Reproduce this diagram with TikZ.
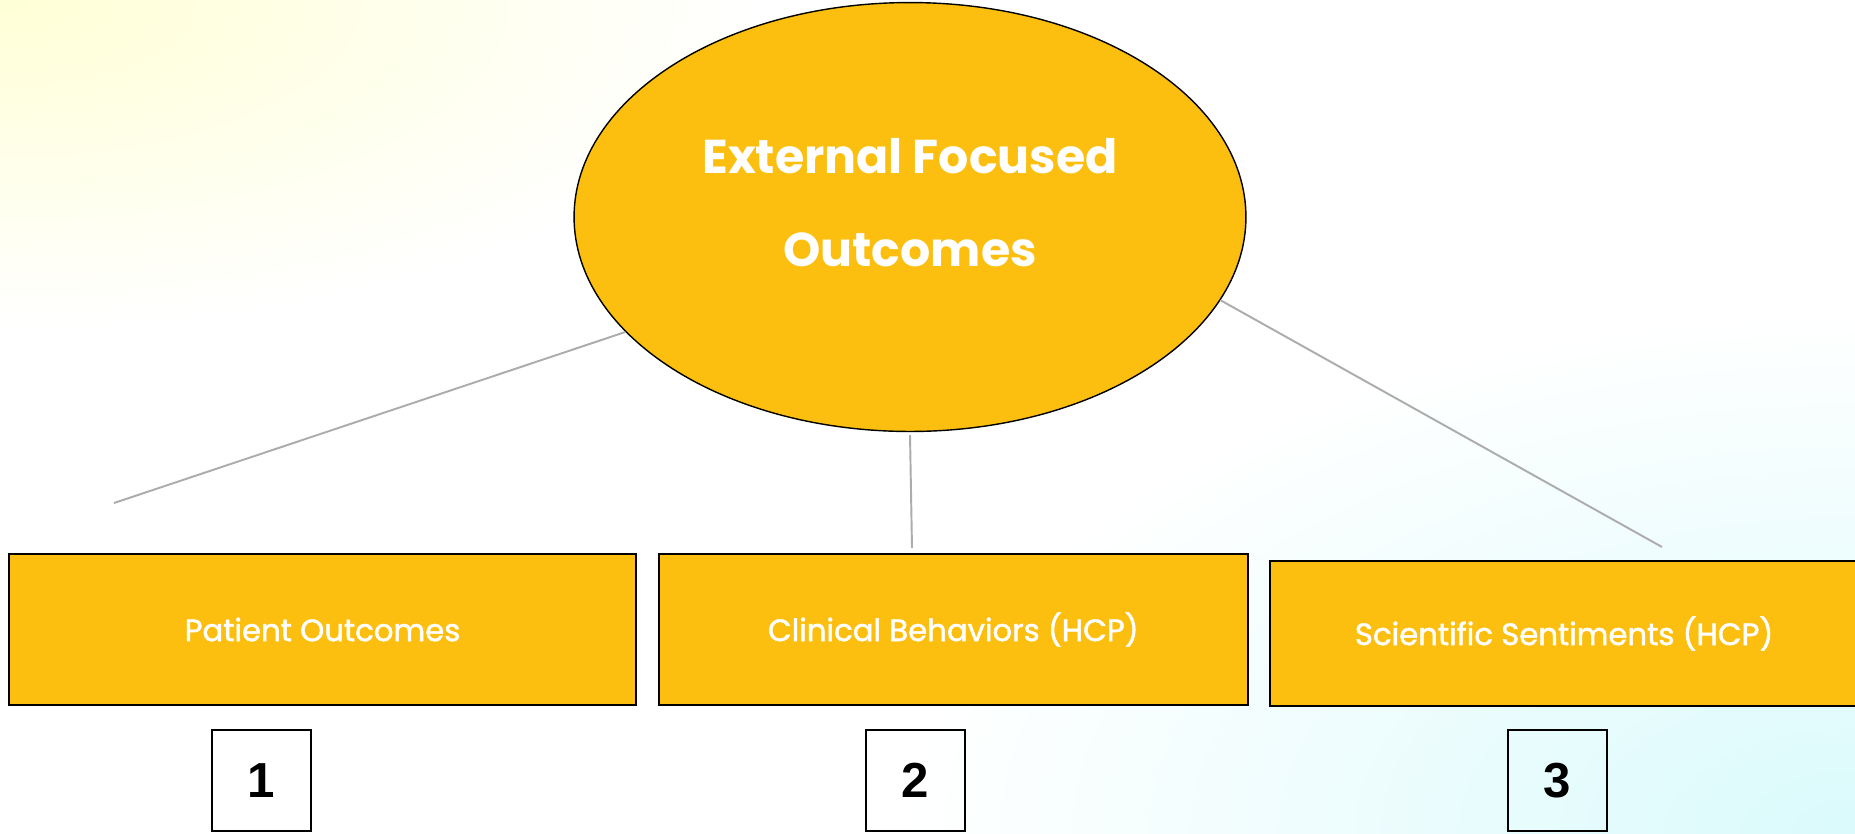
\documentclass[tikz,border=0pt]{standalone}
\usepackage{fontspec}
\usepackage{xcolor}
\usepackage{tikz}
\usetikzlibrary{shapes.geometric,positioning}

\newfontfamily\gothic{Poppins}
\newfontfamily\gothicsemi[FakeBold=1.6]{Poppins}
\newfontfamily\arialbold{Liberation Sans}

\definecolor{gold}{RGB}{252,191,16}
\definecolor{linkgrey}{RGB}{172,172,172}
\definecolor{paleyellow}{RGB}{255,255,214}
\definecolor{palecyan}{RGB}{218,250,252}

\begin{document}
\begin{tikzpicture}[
    x=0.02cm, y=-0.02cm,
    node distance=0.42cm,
    hub/.style={ellipse, draw, line width=0.8pt, fill=gold, minimum width=13.44cm, minimum height=8.58cm, inner sep=0pt, align=center, text=white, font=\gothic\bfseries\fontsize{27}{53}\selectfont, text depth=0.6cm},
    branch/.style={rectangle, draw, line width=1.1pt, fill=gold, minimum height=3.02cm, inner sep=0pt, text=white, font=\gothicsemi\fontsize{17.5}{20}\selectfont},
    tag/.style={rectangle, draw, line width=1.6pt, minimum width=1.98cm, minimum height=2.02cm, inner sep=0pt, font=\arialbold\bfseries\fontsize{28}{30}\selectfont},
    link/.style={draw=linkgrey, line width=1.1pt}
]
    \useasboundingbox (0,0) rectangle (1855,833);

    % soft background
    \fill[white] (0,0) rectangle (1855,833);
    \begin{scope}
        \clip (0,0) rectangle (1855,833);
        \shade[inner color=paleyellow, outer color=white] (0,0) ellipse [x radius=760, y radius=330];
        \shade[inner color=palecyan, outer color=white] (1855,833) ellipse [x radius=950, y radius=520];
    \end{scope}

    % hub
    \node[hub] (outcomes) at (910,217) {External Focused\\Outcomes};

    % branches
    \node[branch, minimum width=12.54cm] (patient) at (322.5,629.5) {Patient Outcomes};
    \node[branch, minimum width=11.78cm, right=of patient] (clinical) {Clinical Behaviors (HCP)};
    \node[branch, minimum width=11.78cm, minimum height=2.9cm, right=0.4cm of clinical, yshift=-0.08cm] (scientific) {Scientific Sentiments (HCP)};

    % number tags
    \node[tag] (tagone) at (261.5,780.5) {1};
    \node[tag] (tagtwo) at (915.5,780.5) {2};
    \node[tag] (tagthree) at (1557.5,780.5) {3};

    % connectors
    \coordinate (endpatient) at (114,503);
    \coordinate (endclinical) at (912,548);
    \coordinate (endscientific) at (1662,547);
    \draw[link] (outcomes.202) -- (endpatient);
    \draw[link] ([yshift=-0.06cm]outcomes.south) -- (endclinical);
    \draw[link] (outcomes.-15) -- (endscientific);
\end{tikzpicture}
\end{document}
